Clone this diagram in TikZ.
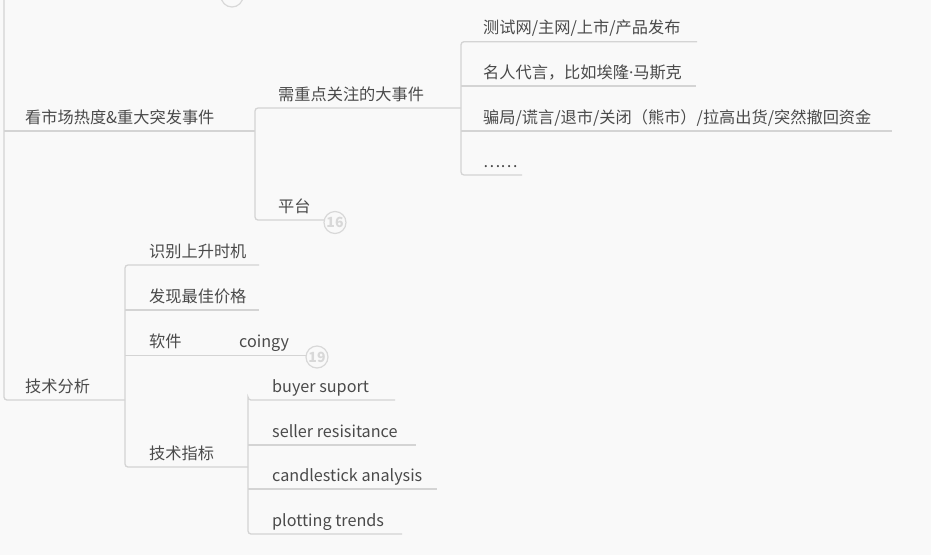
\documentclass[tikz,border=0pt]{standalone}
\usepackage{fontspec}
\setmainfont{Noto Sans CJK SC}
\newfontfamily\dotfont{Noto Sans}
\definecolor{bgc}{HTML}{F9F9F9}
\definecolor{linec}{HTML}{D4D4D4}
\definecolor{txtc}{HTML}{4A4A4A}
\definecolor{badgec}{HTML}{D8D8D8}
\begin{document}
\begin{tikzpicture}[x=1pt,y=-1pt,
  conn/.style={draw=linec,line width=1.3pt,rounded corners=3pt},
  lbl/.style={anchor=base west,inner sep=0pt,text=txtc,font=\fontsize{16.2}{19}\selectfont},
  badge/.style={circle,draw=badgec,line width=1.2pt,fill=bgc,minimum size=22pt,inner sep=0pt,text=badgec,font=\fontsize{14}{15}\selectfont\bfseries}]
\useasboundingbox (0,0) rectangle (931,555);
\fill[bgc] (0,0) rectangle (931,555);

% text nodes
\node[lbl] (kan) at (25,123) {看市场热度\&重大突发事件};
\node[lbl] (xu) at (278,100) {需重点关注的大事件};
\node[lbl] (ce) at (483,33.5) {测试网/主网/上市/产品发布};
\node[lbl] (ming) at (483,78) {名人代言，比如埃隆{\dotfont·}马斯克};
\node[lbl] (pian) at (483,123) {骗局/谎言/退市/关闭（熊市）/拉高出货/突然撤回资金};
\node[lbl] (dots) at (483,167) {……};
\node[lbl] (ping) at (278,212) {平台};
\node[lbl] (jsfx) at (25,392) {技术分析};
\node[lbl] (sb) at (149,257) {识别上升时机};
\node[lbl] (fx) at (149,302) {发现最佳价格};
\node[lbl] (rj) at (149,347) {软件};
\node[lbl] (coin) at (239,347) {coingy};
\node[lbl] (zb) at (149,459) {技术指标};
\node[lbl] (buy) at (272,392) {buyer suport};
\node[lbl] (sell) at (272,437) {seller resisitance};
\node[lbl] (cand) at (272,481) {candlestick analysis};
\node[lbl] (plot) at (272,526) {plotting trends};

% underline end points
\coordinate (rootTop) at (4,0);
\coordinate (kanE) at (255,131);
\coordinate (xuE) at (461,108);
\coordinate (ceE) at (697,41.7);
\coordinate (mingE) at (696,86);
\coordinate (pianE) at (892,131);
\coordinate (dotsE) at (522,175);
\coordinate (pingE) at (324,220);
\coordinate (jsfxE) at (125,400);
\coordinate (sbE) at (259,265);
\coordinate (fxE) at (259,310);
\coordinate (coinE) at (306,355.5);
\coordinate (zbE) at (248,467);
\coordinate (buyE) at (395,400);
\coordinate (sellE) at (416,445);
\coordinate (candE) at (437,489);
\coordinate (plotE) at (402,534);

% root trunk
\draw[conn] (rootTop) |- (jsfxE);
\draw[conn] (4,131) -- (kanE);

% 看市场 branch
\draw[conn] (xuE) -| (kanE) |- (pingE);

% 需重点 branch
\draw[conn] (ceE) -| (xuE) |- (dotsE);
\draw[conn] (xuE |- mingE) -- (mingE);
\draw[conn] (xuE |- pianE) -- (pianE);

% 技术分析 branch
\draw[conn] (sbE) -| (jsfxE) |- (zbE);
\draw[conn] (jsfxE |- fxE) -- (fxE);
\draw[conn] (jsfxE |- coinE) -- (coinE);

% 技术指标 branch
\draw[conn] (buyE) -| (zbE |- buyE) |- (plotE);
\draw[conn] (zbE |- sellE) -- (sellE);
\draw[conn] (zbE |- candE) -- (candE);

% badges
\node[badge] (b16) at (335,222.5) {16};
\node[badge] (b19) at (317,357) {19};
\node[badge] (btop) at (232,-4) {};
\end{tikzpicture}
\end{document}
